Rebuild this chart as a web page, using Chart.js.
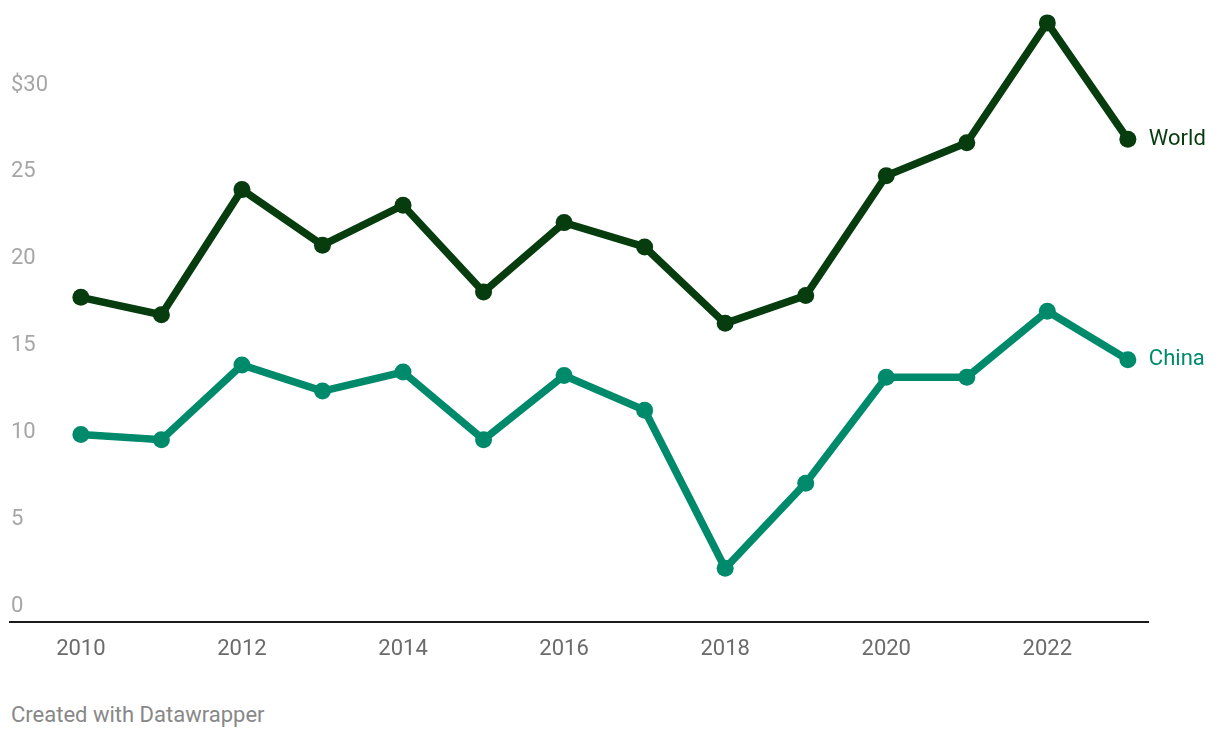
<!DOCTYPE html>
<html>
<head>
<meta charset="utf-8">
<script src="https://cdn.jsdelivr.net/npm/chart.js@4"></script>
<style>
  body { margin: 0; background: #fff; font-family: Roboto, sans-serif; }
  #wrap { position: relative; width: 1220px; height: 680px; }
  #footer { position: absolute; left: 11px; top: 702px; font-size: 22px; color: #888; }
</style>
</head>
<body>
<div id="wrap"><canvas id="chart"></canvas></div>
<div id="footer">Created with Datawrapper</div>
<script>
const years = [2010, 2011, 2012, 2013, 2014, 2015, 2016, 2017, 2018, 2019, 2020, 2021, 2022, 2023];
const world = [18.7, 17.7, 24.9, 21.7, 24.0, 19.0, 23.0, 21.6, 17.2, 18.8, 25.7, 27.6, 34.5, 27.8];
const china = [10.8, 10.5, 14.8, 13.3, 14.4, 10.5, 14.2, 12.2, 3.1, 8.0, 14.1, 14.1, 17.9, 15.1];
const xTicks = [2010, 2012, 2014, 2016, 2018, 2020, 2022];
const yTicks = [0, 5, 10, 15, 20, 25, 30];

const worldColor = "#063c0e";
const chinaColor = "#008a6c";

// draws the series name next to the last point
const endLabels = {
  id: "endLabels",
  afterDatasetsDraw(chart) {
    const ctx = chart.ctx;
    ctx.save();
    ctx.font = "22px Roboto";
    ctx.textBaseline = "middle";
    chart.data.datasets.forEach((ds, i) => {
      const meta = chart.getDatasetMeta(i);
      const pt = meta.data[meta.data.length - 1];
      ctx.fillStyle = ds.borderColor;
      ctx.fillText(ds.label, pt.x + 21, pt.y);
    });
    ctx.restore();
  }
};

new Chart(document.getElementById("chart"), {
  type: "line",
  data: {
    datasets: [
      {
        label: "World",
        data: years.map((y, i) => ({ x: y, y: world[i] })),
        borderColor: worldColor,
        backgroundColor: worldColor,
        borderWidth: 7.5,
        pointRadius: 8.5,
        pointBorderWidth: 0,
        clip: false
      },
      {
        label: "China",
        data: years.map((y, i) => ({ x: y, y: china[i] })),
        borderColor: chinaColor,
        backgroundColor: chinaColor,
        borderWidth: 7.5,
        pointRadius: 8.5,
        pointBorderWidth: 0,
        clip: false
      }
    ]
  },
  plugins: [endLabels],
  options: {
    responsive: true,
    maintainAspectRatio: false,
    animation: false,
    layout: { padding: { left: 8, right: 72, top: 9.4, bottom: 3.5 } },
    plugins: {
      legend: { display: false },
      tooltip: { enabled: false }
    },
    scales: {
      x: {
        type: "linear",
        min: 2009.12,
        max: 2023.25,
        afterBuildTicks: scale => { scale.ticks = xTicks.map(v => ({ value: v })); },
        grid: { display: false, drawTicks: false },
        border: { display: true, color: "#1a1a1a", width: 2 },
        ticks: {
          padding: 14,
          color: "#6b6b6b",
          font: { family: "Roboto", size: 22 },
          maxRotation: 0,
          callback: v => String(v)
        }
      },
      y: {
        min: 0,
        max: 35,
        afterBuildTicks: scale => { scale.ticks = yTicks.map(v => ({ value: v })); },
        grid: { display: false, drawTicks: false },
        border: { display: false },
        ticks: {
          mirror: true,
          padding: 1,
          labelOffset: -16,
          color: "#a6a6a6",
          font: { family: "Roboto", size: 22 },
          callback: v => (v === 30 ? "$30" : String(v))
        }
      }
    }
  }
});
</script>
</body>
</html>
